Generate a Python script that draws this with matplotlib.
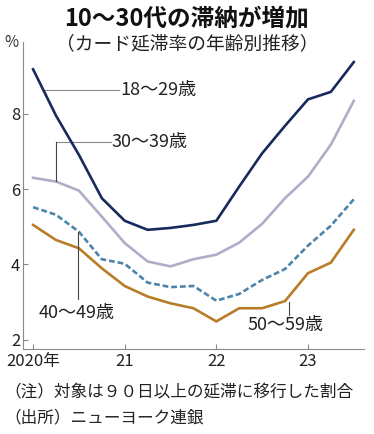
import numpy as np
import matplotlib
matplotlib.use("Agg")
import matplotlib.pyplot as plt

plt.rcParams['font.family'] = ['Noto Sans CJK JP', 'DejaVu Sans']

# 四半期データ（2020年1-3月期〜2023年7-9月期）
quarters = np.arange(15)
age_18_29 = [9.18, 7.95, 6.91, 5.76, 5.16, 4.92, 4.97, 5.05, 5.16, 6.07, 6.95, 7.68, 8.38, 8.58, 9.37]
age_30_39 = [6.30, 6.20, 5.96, 5.27, 4.57, 4.08, 3.95, 4.14, 4.26, 4.58, 5.08, 5.76, 6.33, 7.18, 8.34]
age_40_49 = [5.52, 5.32, 4.87, 4.14, 4.02, 3.52, 3.40, 3.43, 3.04, 3.22, 3.59, 3.88, 4.50, 5.03, 5.73]
age_50_59 = [5.05, 4.65, 4.43, 3.90, 3.43, 3.15, 2.97, 2.84, 2.49, 2.84, 2.84, 3.03, 3.77, 4.05, 4.92]

year_ticks = [0, 4, 8, 12]
year_labels = ['2020年', '21', '22', '23']

navy = '#162a5c'
lavender = '#afadc7'
blue = '#4d84ab'
orange = '#b97c28'
gray = '#8a8a8a'

fig = plt.figure(figsize=(3.74, 4.34), dpi=100)
ax = fig.add_axes([0.0615, 0.196, 0.912, 0.707])

ax.plot(quarters, age_18_29, color=navy, lw=1.9, zorder=4)
ax.plot(quarters, age_30_39, color=lavender, lw=1.9, zorder=3)
ax.plot(quarters, age_40_49, color=blue, lw=1.9, dashes=(2.2, 1.1), zorder=3)
ax.plot(quarters, age_50_59, color=orange, lw=1.9, zorder=3)

ax.set_xlim(-0.44, 14.45)
ax.set_ylim(1.76, 9.9)
ax.set_xticks(year_ticks)
ax.set_xticklabels(year_labels)
ax.set_yticks([2, 4, 6, 8])
ax.tick_params(direction='in', length=3.5, width=0.8, color=gray,
               labelsize=12, labelcolor='#222222', pad=2)
ax.tick_params(axis='x', pad=3)
for side in ['top', 'right']:
    ax.spines[side].set_visible(False)
for side in ['left', 'bottom']:
    ax.spines[side].set_color(gray)
    ax.spines[side].set_linewidth(0.8)

# 系列ラベルと引き出し線
lc = '#444444'
tc = '#222222'
ax.plot([0.48, 3.75], [8.63, 8.63], color=gray, lw=0.8, zorder=2)
ax.text(3.83, 8.63, '18～29歳', fontsize=13, va='center', ha='left', color=tc)
ax.plot([1.0, 3.4], [7.24, 7.24], color=gray, lw=0.8, zorder=2)
ax.plot([1.0, 1.0], [6.22, 7.24], color=lc, lw=0.8, zorder=5)
ax.text(3.44, 7.24, '30～39歳', fontsize=13, va='center', ha='left', color=tc)
ax.plot([1.98, 1.98], [4.87, 3.08], color=lc, lw=0.8, zorder=5)
ax.text(1.92, 2.71, '40～49歳', fontsize=13, va='center', ha='center', color=tc)
ax.plot([11.19, 11.19], [3.0, 2.66], color=lc, lw=0.8, zorder=5)
ax.text(11.0, 2.40, '50～59歳', fontsize=13, va='center', ha='center', color=tc)

fig.text(0.013, 0.901, '%', fontsize=11, va='center', ha='left', color='#333333')
fig.text(0.5, 0.958, '10～30代の滞納が増加', fontsize=17, fontweight='bold',
         ha='center', va='center', color='#111111')
fig.text(0.5, 0.900, '（カード延滞率の年齢別推移）', fontsize=13.5, ha='center',
         va='center', color=tc)
fig.text(0.012, 0.094, '（注）対象は９０日以上の延滞に移行した割合', fontsize=12,
         ha='left', va='center', color=tc)
fig.text(0.012, 0.037, '（出所）ニューヨーク連銀', fontsize=12,
         ha='left', va='center', color=tc)

fig.savefig('out.png', dpi=100)
